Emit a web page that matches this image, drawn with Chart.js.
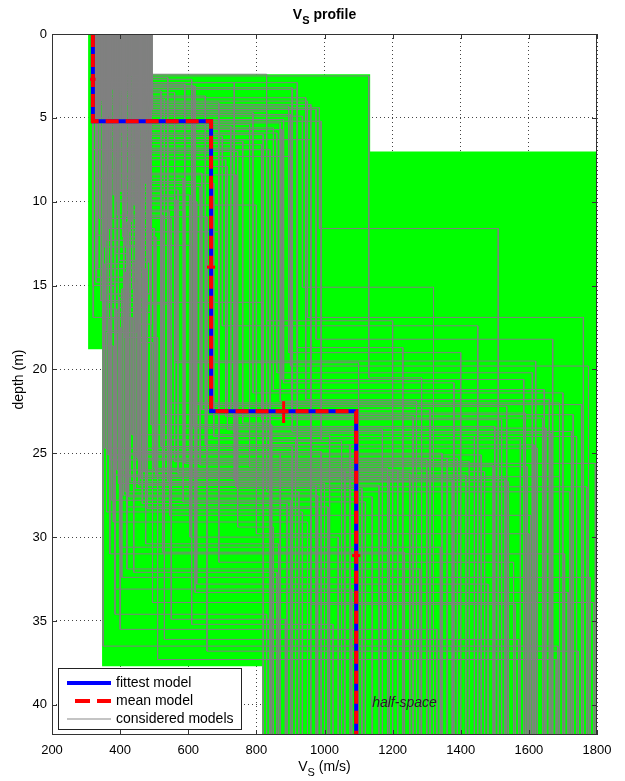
<!DOCTYPE html>
<html>
<head>
<meta charset="utf-8">
<title>Vs profile</title>
<script src="https://cdn.jsdelivr.net/npm/chart.js@4.4.1/dist/chart.umd.min.js"></script>
<style>
  html, body { margin: 0; padding: 0; background: #fff; }
  #wrap { width: 625px; height: 781px; }
</style>
</head>
<body>
<div id="wrap"><canvas id="vs-chart" width="625" height="781"></canvas></div>
<script>
const FONT = '"Liberation Sans", Arial, Helvetica, sans-serif';

// --- Data ---

const X_TICKS   = [200, 400, 600, 800, 1000, 1200, 1400, 1600, 1800];
const Y_TICKS   = [0, 5, 10, 15, 20, 25, 30, 35, 40];
const DEPTH_MAX = 41.8;

// search space per layer (green boxes): Vs range and depth range
const layerVsMin  = [306, 347, 817];
const layerVsMax  = [494, 1134, 1800];
const layerTopMin = [0, 2.4, 7.0];
const layerBotMax = [18.8, 37.7, 41.8];

// fittest and mean model (2 layers + half-space)
const fittestVs    = [320, 667, 1093];
const fittestDepth = [5.2, 22.5];
const meanVs       = [320, 667, 1093];
const meanDepth    = [5.2, 22.5];

// small error marks on the mean model
const errVsLo  = [312, 655, 880, 1081];
const errVsHi  = [328, 679, 880, 1105];
const errDepLo = [2.7, 13.9, 21.9, 31.1];
const errDepHi = [2.7, 13.9, 23.2, 31.1];

// considered models (estimated, one column per model)
const modelVs1 = [
    318, 402, 355, 471, 337, 428, 389, 492, 346, 415, 363, 480, 326, 441, 374, 458,
    333, 486, 397, 351, 465, 322, 419, 378, 447, 341, 408, 369, 476, 329, 434, 393,
    359, 489, 344, 424, 383, 462, 320, 411, 372, 453, 336, 437, 399, 482, 350, 417,
    366, 445, 324, 474, 387, 406, 339, 468, 357, 430, 380, 494, 331, 421, 361, 450,
    343, 478, 391, 327, 456, 376, 413, 349, 484, 368, 439, 321, 404, 385, 460, 334,
    426, 353, 470, 395, 340, 448, 371, 488, 325, 418, 382, 463, 347, 432, 364, 479,
    410, 338, 452, 379, 490, 330, 423, 358, 467, 392, 443, 319, 400, 373, 485, 352
];
const modelDepth1 = [
    3.2, 9.4, 5.1, 14.2, 2.7, 11.8, 6.4, 17.3, 4.0, 12.6, 7.8, 16.1, 3.6, 10.2, 5.8, 18.4,
    8.6, 4.4, 13.5, 2.9, 15.7, 6.9, 10.9, 3.3, 17.8, 5.5, 12.1, 8.1, 4.7, 14.8, 2.5, 9.9,
    6.1, 16.6, 3.9, 11.4, 7.3, 13.9, 4.2, 18.1, 2.8, 9.1, 5.3, 15.2, 3.5, 12.9, 7.0, 10.5,
    4.9, 17.0, 2.6, 8.9, 13.1, 5.9, 11.0, 3.1, 16.4, 6.6, 9.6, 4.5, 14.5, 2.4, 12.3, 7.5,
    15.9, 3.7, 10.0, 5.0, 13.7, 2.9, 8.4, 18.6, 4.3, 11.6, 6.3, 16.9, 3.4, 9.3, 5.6, 14.0,
    7.1, 12.7, 3.0, 17.5, 5.2, 10.6, 4.6, 15.5, 2.7, 8.8, 6.8, 13.3, 3.8, 11.2, 5.7, 16.3,
    9.7, 4.1, 14.6, 2.6, 7.9, 12.0, 3.4, 17.7, 6.0, 10.8, 4.8, 15.0, 3.1, 8.3, 13.6, 5.4
];
const modelVs2 = [
    905, 520, 880, 415, 610, 690, 760, 455, 950, 610, 372, 540, 480, 800, 430, 495,
    585, 985, 470, 735, 398, 840, 655, 920, 360, 725, 505, 385, 790, 440, 1130, 565,
    700, 385, 530, 480, 905, 420, 960, 510, 375, 635, 870, 405, 560, 460, 745, 590,
    935, 370, 455, 675, 425, 860, 550, 620, 390, 815, 605, 975, 450, 830, 530, 710,
    410, 650, 625, 365, 355, 920, 740, 380, 895, 500, 960, 435, 520, 570, 850, 475,
    665, 445, 590, 400, 990, 545, 830, 365, 470, 620, 735, 490, 945, 420, 875, 395,
    560, 690, 465, 540, 715, 350, 425, 410, 820, 525, 900, 385, 615, 640, 440, 780
];
const modelDepth2 = [
    22.9, 24.6, 20.8, 27.3, 26.4, 31.5, 23.2, 26.1, 16.9, 35.2, 25.4, 22.0, 28.3, 29.8, 26.7, 33.9,
    27.9, 11.6, 25.0, 23.8, 30.6, 24.3, 36.8, 18.7, 28.5, 22.6, 26.3, 33.1, 21.4, 24.9, 20.5, 19.5,
    17.4, 34.6, 24.2, 26.9, 23.7, 28.2, 25.3, 37.3, 27.8, 25.7, 21.9, 32.4, 19.6, 26.5, 29.4, 23.5,
    15.1, 31.0, 26.9, 24.0, 27.6, 20.2, 34.9, 22.1, 26.0, 23.0, 30.0, 18.2, 25.3, 27.3, 36.1, 22.8,
    26.4, 24.5, 32.8, 16.0, 24.7, 26.0, 27.0, 29.1, 19.0, 25.9, 34.0, 23.9, 22.7, 26.2, 21.2, 30.4,
    22.2, 27.1, 25.6, 35.5, 24.2, 28.7, 17.1, 25.1, 26.1, 33.3, 26.6, 23.3, 21.8, 31.9, 20.6, 26.8,
    25.5, 24.0, 28.0, 26.7, 23.6, 36.5, 25.0, 27.5, 24.5, 30.9, 19.8, 26.3, 23.4, 22.4, 32.1, 25.8
];
const modelVs3 = [
    1640, 905, 1380, 1720, 1190, 1555, 840, 1470, 1760, 1025, 1300, 1690, 960, 1600, 1250, 1790,
    1120, 1510, 870, 1665, 1340, 1050, 1745, 1230, 935, 1590, 1415, 1080, 1700, 990, 1285, 1620,
    1450, 830, 1575, 1160, 1725, 1010, 1360, 1680, 900, 1495, 1270, 1780, 1100, 1530, 850, 1650,
    1320, 1705, 975, 1440, 1140, 1610, 885, 1755, 1215, 1520, 1040, 1670, 1390, 925, 1570, 1260,
    1690, 1075, 1480, 820, 1625, 1300, 1770, 950, 1400, 1185, 1560, 1015, 1730, 1250, 1645, 865,
    1535, 1110, 1795, 1330, 915, 1605, 1200, 1460, 1060, 1715, 1375, 845, 1660, 1280, 1585, 1000,
    1425, 1740, 890, 1540, 1170, 1685, 1345, 980, 1615, 1235, 1775, 1090, 1500, 1310, 860, 1595
];

// --- Helpers ---

function stepProfile(vs, depth) {
    const pts = [];
    let top = 0;
    vs.forEach((v, i) => {
        const bot = i < depth.length ? depth[i] : DEPTH_MAX;
        pts.push({ x: v, y: top }, { x: v, y: bot });
        top = bot;
    });
    return pts;
}

function rectShape(i) {
    const x0 = layerVsMin[i], x1 = layerVsMax[i];
    const y0 = layerTopMin[i], y1 = layerBotMax[i];
    return [{ x: x0, y: y0 }, { x: x1, y: y0 }, { x: x1, y: y1 }, { x: x0, y: y1 }, { x: x0, y: y0 }];
}

// --- Datasets (index 0 is drawn on top) ---

const datasets = [];

datasets.push({
    label: "mean model",
    data: stepProfile(meanVs, meanDepth),
    borderColor: "#ff0000", borderWidth: 4, borderDash: [13, 7]
});
datasets.push({
    label: "fittest model",
    data: stepProfile(fittestVs, fittestDepth),
    borderColor: "#0000ff", borderWidth: 4
});
errVsLo.forEach((v, i) => {
    datasets.push({
        data: [{ x: v, y: errDepLo[i] }, { x: errVsHi[i], y: errDepHi[i] }],
        borderColor: "#ff0000", borderWidth: 3
    });
});
modelVs1.forEach((v, i) => {
    datasets.push({
        label: i === 0 ? "considered models" : undefined,
        data: stepProfile([v, modelVs2[i], modelVs3[i]], [modelDepth1[i], modelDepth2[i]]),
        borderColor: "#808080", borderWidth: 1
    });
});
layerVsMin.forEach((v, i) => {
    datasets.push({
        data: rectShape(i),
        borderColor: "rgba(0,0,0,0)", borderWidth: 1,
        backgroundColor: "#00ff00", fill: "shape"
    });
});

datasets.forEach(d => {
    d.showLine = true;
    d.pointRadius = 0;
    d.pointHoverRadius = 0;
});

// --- Drawing extras: box, inward ticks, titles, legend, label ---

function drawSubText(ctx, parts, cx, baseline, size, weight) {
    const subSize = Math.round(size * 0.8);
    let total = 0;
    parts.forEach(([t, sub]) => {
        ctx.font = `${weight} ${sub ? subSize : size}px ${FONT}`;
        total += ctx.measureText(t).width;
    });
    let xx = cx - total / 2;
    ctx.textAlign = "left";
    ctx.textBaseline = "alphabetic";
    parts.forEach(([t, sub]) => {
        ctx.font = `${weight} ${sub ? subSize : size}px ${FONT}`;
        ctx.fillText(t, xx, baseline + (sub ? size * 0.35 : 0));
        xx += ctx.measureText(t).width;
    });
}

const matlabExtras = {
    id: "matlabExtras",
    afterDraw(chart) {
        const { ctx, chartArea: a, scales: { x, y } } = chart;
        ctx.save();

        // frame
        ctx.strokeStyle = "#333";
        ctx.lineWidth = 1;
        ctx.setLineDash([]);
        ctx.strokeRect(a.left + 0.5, a.top + 0.5, a.right - a.left - 1, a.bottom - a.top - 1);

        // inward ticks on all sides
        ctx.beginPath();
        X_TICKS.forEach(v => {
            const px = Math.round(x.getPixelForValue(v)) + 0.5;
            ctx.moveTo(px, a.bottom); ctx.lineTo(px, a.bottom - 5);
            ctx.moveTo(px, a.top);    ctx.lineTo(px, a.top + 5);
        });
        Y_TICKS.forEach(v => {
            const py = Math.round(y.getPixelForValue(v)) + 0.5;
            ctx.moveTo(a.left, py);  ctx.lineTo(a.left + 5, py);
            ctx.moveTo(a.right, py); ctx.lineTo(a.right - 5, py);
        });
        ctx.stroke();

        // titles
        ctx.fillStyle = "#000";
        const cx = (a.left + a.right) / 2;
        drawSubText(ctx, [["V", false], ["S", true], [" profile", false]], cx, 19, 14, "bold");
        drawSubText(ctx, [["V", false], ["S", true], [" (m/s)", false]], cx, 771, 14, "normal");

        ctx.save();
        ctx.translate(19, (a.top + a.bottom) / 2 - 5);
        ctx.rotate(-Math.PI / 2);
        ctx.font = `14px ${FONT}`;
        ctx.textAlign = "center";
        ctx.textBaseline = "middle";
        ctx.fillText("depth (m)", 0, 0);
        ctx.restore();

        // half-space label
        ctx.font = `italic 14px ${FONT}`;
        ctx.fillStyle = "#222";
        ctx.textAlign = "left";
        ctx.textBaseline = "middle";
        ctx.fillText("half-space", x.getPixelForValue(1140), y.getPixelForValue(39.9));

        // legend box
        const lx = 58, ly = 668, lw = 183, lh = 61;
        ctx.fillStyle = "#fff";
        ctx.fillRect(lx, ly, lw, lh);
        ctx.strokeStyle = "#222";
        ctx.lineWidth = 1;
        ctx.strokeRect(lx + 0.5, ly + 0.5, lw, lh);

        const rows = [
            { text: "fittest model",     color: "#0000ff", width: 4, dash: [],      x0: 67, y: 683 },
            { text: "mean model",        color: "#ff0000", width: 4, dash: [15, 7], x0: 75, y: 701 },
            { text: "considered models", color: "#c4c4c4", width: 2, dash: [],      x0: 67, y: 719 }
        ];
        rows.forEach(r => {
            ctx.beginPath();
            ctx.strokeStyle = r.color;
            ctx.lineWidth = r.width;
            ctx.setLineDash(r.dash);
            ctx.moveTo(r.x0, r.y);
            ctx.lineTo(111, r.y);
            ctx.stroke();
            ctx.setLineDash([]);
            ctx.fillStyle = "#000";
            ctx.font = `14px ${FONT}`;
            ctx.fillText(r.text, 116, r.y);
        });

        ctx.restore();
    }
};

// --- Chart ---

const ctx = document.getElementById("vs-chart").getContext("2d");
new Chart(ctx, {
    type: "scatter",
    data: { datasets },
    options: {
        responsive: false,
        animation: false,
        events: [],
        layout: { padding: { top: 34, right: 28, left: 0, bottom: 0 } },
        plugins: { legend: { display: false }, title: { display: false }, tooltip: { enabled: false } },
        scales: {
            x: {
                type: "linear", min: 200, max: 1800,
                ticks: { stepSize: 200, autoSkip: false, maxRotation: 0, padding: 8,
                         color: "#000", font: { family: FONT, size: 13 },
                         callback: v => String(v) },
                grid: { color: "#444", lineWidth: 1, drawTicks: false },
                border: { display: false, dash: [1, 3] },
                afterFit(scale) { scale.height = 46; }
            },
            y: {
                type: "linear", min: 0, max: DEPTH_MAX, reverse: true,
                ticks: { stepSize: 5, includeBounds: false, autoSkip: false, padding: 5,
                         color: "#000", font: { family: FONT, size: 13 },
                         callback: v => String(v) },
                grid: { color: "#444", lineWidth: 1, drawTicks: false },
                border: { display: false, dash: [1, 3] },
                afterFit(scale) { scale.width = 52; }
            }
        }
    },
    plugins: [matlabExtras]
});
</script>
</body>
</html>
